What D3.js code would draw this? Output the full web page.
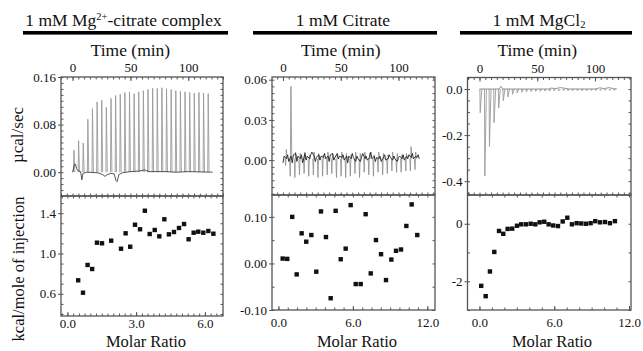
<!DOCTYPE html>
<html>
<head>
<meta charset="utf-8">
<script src="https://cdn.jsdelivr.net/npm/d3@7"></script>
<style>
  body { margin: 0; background: #fff; }
  svg text { font-family: "Liberation Serif", "Times New Roman", serif; fill: #111; }
  .ax .domain { display: none; }
  .ax line { stroke: #555; stroke-width: 1; }
  .ax text { font-size: 13px; }
</style>
</head>
<body>
<script>
// Panel titles (pieces: [text, "sup" | "sub" | ""])
var titleA = [["1 mM Mg", ""], ["2+", "sup"], ["-citrate complex", ""]];
var titleB = [["1 mM Citrate", ""]];
var titleC = [["1 mM MgCl", ""], ["2", "sub"]];

// tick labels
var timeTicks = [0, 50, 100];
var rawTicksA = [0, 0.08, 0.16], rawLabelsA = ["0.00", "0.08", "0.16"];
var rawTicksB = [0, 0.03, 0.06], rawLabelsB = ["0.00", "0.03", "0.06"];
var rawTicksC = [0, -0.2, -0.4], rawLabelsC = ["0.0", "-0.2", "-0.4"];
var heatTicksA = [0.6, 1.0, 1.4], heatLabelsA = ["0.6", "1.0", "1.4"];
var heatTicksB = [-0.1, 0, 0.1], heatLabelsB = ["-0.10", "0.00", "0.10"];
var heatTicksC = [-2, 0], heatLabelsC = ["-2", "0"];
var ratioTicksA = [0, 3, 6], ratioLabelsA = ["0.0", "3.0", "6.0"];
var ratioTicksB = [0, 6, 12], ratioLabelsB = ["0.0", "6.0", "12.0"];
var ratioTicksC = [0, 6, 12], ratioLabelsC = ["0.0", "6.0", "12.0"];

// Mg2+-citrate complex: raw injection peaks (ucal/sec)
var injTimeA = [1, 5, 9, 13, 17, 21, 25, 29, 33, 37, 41, 45, 49, 53, 57, 61, 65, 69, 73, 77, 81, 85, 89, 93, 97, 101, 105, 109, 113, 117];
var peakA = [0.037, 0.053, 0.049, 0.089, 0.107, 0.118, 0.121, 0.109, 0.124, 0.129, 0.131, 0.134, 0.135, 0.132, 0.135,
             0.137, 0.139, 0.141, 0.141, 0.142, 0.140, 0.139, 0.137, 0.136, 0.135, 0.134, 0.133, 0.134, 0.133, 0.132];
var baseA = [[0, 0], [1.5, 0.012], [2.5, 0.014], [3.5, 0.006], [5, 0.002], [7, 0.001], [8, -0.013], [9, -0.002], [12, 0],
             [22, -0.001], [26, -0.004], [28, -0.007], [30, -0.004], [33, -0.002], [36, -0.003], [37.5, -0.014], [38.5, -0.016],
             [40, -0.004], [43, -0.001], [50, 0.001], [58, 0.002], [62, 0.004], [66, 0.001], [80, 0.001], [90, 0], [100, 0.001], [121, 0]];
// integrated heats
var ratioA = [0.47, 0.68, 0.88, 1.08, 1.29, 1.51, 1.91, 2.34, 2.54, 2.74, 2.95, 3.17, 3.38, 3.59, 3.81, 4.01, 4.23, 4.43,
              4.65, 4.87, 5.09, 5.29, 5.51, 5.71, 5.93, 6.15, 6.37];
var heatA = [0.734, 0.611, 0.886, 0.846, 1.107, 1.101, 1.127, 1.047, 1.200, 1.067, 1.285, 1.240, 1.424, 1.193, 1.233, 1.170,
             1.339, 1.190, 1.213, 1.253, 1.292, 1.141, 1.206, 1.216, 1.206, 1.223, 1.196];

// Citrate
var injTimeB = [2, 6, 10, 14, 18, 22, 26, 30, 34, 38, 42, 46, 50, 54, 58, 62, 66, 70, 74, 78, 82, 86, 90, 94, 98, 102, 106, 110, 114];
var dipB = [-0.004, -0.012, -0.013, -0.011, -0.010, -0.012, -0.011, -0.013, -0.012, -0.011, -0.010, -0.013, -0.012, -0.013, -0.012,
            -0.010, -0.013, -0.009, -0.011, -0.012, -0.009, -0.011, -0.010, -0.008, -0.009, -0.009, -0.008, -0.008, -0.007];
var blipB = [0.008, 0.055, 0.006, 0.005, 0.006, 0.004, 0.006, 0.005, 0.004, 0.006, 0.005, 0.004, 0.006, 0.005, 0.004,
             0.006, 0.005, 0.006, 0.005, 0.004, 0.006, 0.005, 0.004, 0.006, 0.005, 0.004, 0.005, 0.010, 0.006];
var baseB = [[0, -0.002], [1, 0.003], [3, 0.001], [4, 0.004], [5, -0.001], [7, 0.003], [8, -0.002], [9, 0.004], [11, 0.005], [12, -0.001],
             [13, 0.003], [15, 0.001], [16, 0.004], [17, -0.002], [19, 0.005], [20, 0.000], [21, 0.003], [23, 0.001], [24, 0.004],
             [25, 0.006], [27, 0.003], [28, -0.001], [29, 0.002], [31, 0.004], [32, 0.000], [33, 0.003], [35, 0.002], [36, 0.005],
             [37, 0.001], [39, 0.003], [40, -0.001], [41, 0.004], [43, 0.005], [44, 0.000], [45, 0.002], [47, 0.005], [48, 0.001],
             [49, 0.003], [51, 0.002], [52, 0.004], [53, 0.000], [55, 0.003], [56, -0.002], [57, 0.003], [59, 0.001], [60, 0.005],
             [61, 0.002], [63, -0.001], [64, 0.003], [65, 0.001], [67, -0.001], [68, 0.002], [69, 0.005], [71, 0.001], [72, 0.003],
             [73, 0.000], [75, 0.002], [76, 0.006], [77, 0.001], [79, 0.003], [80, -0.001], [81, 0.002], [83, 0.001], [84, 0.003],
             [85, -0.001], [87, 0.002], [88, 0.004], [89, 0.000], [91, 0.001], [92, 0.004], [93, 0.002], [95, 0.000], [96, 0.003],
             [97, 0.001], [99, -0.001], [100, 0.002], [101, 0.003], [103, 0.001], [104, 0.004], [105, 0.000], [107, 0.003],
             [108, 0.001], [109, 0.004], [111, 0.002], [112, 0.005], [113, 0.001], [115, 0.003], [116, 0.002], [117, 0.004], [118, 0.001]];
var ratioB = [0.34, 0.71, 1.11, 1.47, 1.87, 2.24, 2.65, 3.05, 3.43, 3.83, 4.21, 4.61, 5.02, 5.42, 5.82, 6.23, 6.63, 7.03,
              7.44, 7.86, 8.27, 8.67, 9.10, 9.48, 9.88, 10.31, 10.74, 11.19];
var heatB = [0.0105, 0.0098, 0.100, -0.0235, 0.0647, 0.0467, 0.061, -0.0177, 0.1117, 0.0567, -0.0747, 0.113, 0.009, 0.0318,
             0.1253, -0.0443, -0.0443, 0.1058, -0.0214, 0.0502, 0.0198, -0.0357, 0.0083, 0.0271, 0.030, 0.0805, 0.1268, 0.061];

// MgCl2
var injTimeC = [0, 4, 8, 12, 16, 20, 24, 28, 32, 36, 40, 44, 48, 52, 56, 60, 64, 68, 72, 76, 80, 84, 88, 92, 96, 100, 104, 108, 112, 116];
var peakC = [-0.103, -0.377, -0.249, -0.146, -0.083, -0.051, -0.034, -0.023, -0.017, -0.014, -0.012, -0.011, -0.010, -0.010, -0.009,
             -0.009, -0.008, -0.008, -0.008, -0.008, -0.007, -0.007, -0.007, -0.007, -0.006, -0.006, -0.006, -0.006, -0.006, -0.006];
var baseC = [[0, 0], [17, 0], [18.5, 0.012], [20, 0], [60, 0], [62, 0.004], [66, 0.002], [70, 0.006], [74, 0.003], [78, 0],
             [100, 0], [104, 0.005], [108, 0.002], [112, 0.006], [116, 0.002], [119, 0]];
var ratioC = [0.14, 0.50, 0.84, 1.19, 1.57, 1.91, 2.26, 2.63, 3.01, 3.35, 3.73, 4.11, 4.48, 4.83, 5.20, 5.55, 5.92, 6.30,
              6.68, 7.05, 7.42, 7.80, 8.17, 8.55, 8.92, 9.29, 9.67, 10.07, 10.47, 10.87];
var heatC = [-2.16, -2.52, -1.66, -0.98, -0.25, -0.35, -0.18, -0.17, -0.07, -0.02, -0.02, 0.00, -0.02, 0.05, 0.07, -0.02,
             -0.06, -0.08, 0.08, 0.21, -0.02, 0.02, 0.01, 0.00, 0.02, 0.09, 0.05, 0.06, 0.02, 0.09];

var svgWidth = 643, svgHeight = 351;
var svg = d3.select("body").append("svg")
  .attr("width", svgWidth)
  .attr("height", svgHeight);

// layout of the three columns
var layout = [
  { x0: 61, x1: 223, top: [77, 196], bot: [196, 316], tDom: [-10, 130], rawDom: [-0.04, 0.16], rDom: [-0.28, 6.79], hDom: [0.38, 1.57],
    rawMinor: 0.01, hMinor: 0.1, rMinor: 0.25, barX: [23, 228], titleX: 123.5, labPad: 3, molarX: 146 },
  { x0: 272, x1: 435, top: [77, 195], bot: [195, 310], tDom: [-9.5, 131.6], rawDom: [-0.026, 0.062], rDom: [-0.52, 12.62], hDom: [-0.1, 0.147],
    rawMinor: 0.005, hMinor: 0.05, rMinor: 0.75, barX: [253, 437], titleX: 343, labPad: 8, molarX: 357 },
  { x0: 467.5, x1: 631, top: [77.5, 195], bot: [195, 310], tDom: [-10.4, 131.2], rawDom: [-0.46, 0.05], rDom: [-0.96, 12.16], hDom: [-3, 1],
    rawMinor: 0.05, hMinor: 1, rMinor: 1, barX: [460, 632], titleX: 539, labPad: 8, molarX: 552 }
];

function minorRange(dom, step) {
  var lo = Math.min(dom[0], dom[1]), hi = Math.max(dom[0], dom[1]);
  return d3.range(Math.ceil(lo / step - 1e-6) * step, hi + 1e-9, step);
}

// frame with ticks on all four sides
function drawFrame(x, y, xMajor, xLabels, xSide, xMinor, yMajor, yLabels, yMinor, labPad) {
  var x0 = x.range()[0], x1 = x.range()[1], yT = y.range()[1], yB = y.range()[0];

  svg.append("g").attr("class", "ax").attr("transform", `translate(${x0},0)`)
    .call(d3.axisLeft(y).tickValues(yMinor).tickFormat("").tickSizeInner(-2.5).tickSizeOuter(0));
  svg.append("g").attr("class", "ax").attr("transform", `translate(${x0},0)`)
    .call(d3.axisLeft(y).tickValues(yMajor).tickFormat((d, i) => yLabels[i]).tickSizeInner(3).tickSizeOuter(0).tickPadding(2));
  svg.append("g").attr("class", "ax").attr("transform", `translate(${x1},0)`)
    .call(d3.axisRight(y).tickValues(yMinor).tickFormat("").tickSizeInner(-2.5).tickSizeOuter(0));

  svg.append("g").attr("class", "ax").attr("transform", `translate(0,${yT})`)
    .call(d3.axisTop(x).tickValues(xMinor).tickFormat("").tickSizeInner(-2.5).tickSizeOuter(0));
  svg.append("g").attr("class", "ax").attr("transform", `translate(0,${yB})`)
    .call(d3.axisBottom(x).tickValues(xMinor).tickFormat("").tickSizeInner(-2.5).tickSizeOuter(0));

  if (xSide === "top") {
    svg.append("g").attr("class", "ax").attr("transform", `translate(0,${yT})`)
      .call(d3.axisTop(x).tickValues(xMajor).tickFormat((d, i) => xLabels[i]).tickSizeInner(-4).tickSizeOuter(0).tickPadding(5));
  } else {
    svg.append("g").attr("class", "ax").attr("transform", `translate(0,${yB})`)
      .call(d3.axisBottom(x).tickValues(xMajor).tickFormat((d, i) => xLabels[i]).tickSizeInner(-4).tickSizeOuter(0).tickPadding(labPad));
  }

  svg.append("rect")
    .attr("x", x0).attr("y", yT)
    .attr("width", x1 - x0).attr("height", yB - yT)
    .attr("fill", "none").attr("stroke", "#555").attr("stroke-width", 1.3);
}

function drawTitle(pieces, cx, bar) {
  var t = svg.append("text")
    .attr("x", cx).attr("y", 26)
    .attr("text-anchor", "middle")
    .style("font-size", "17.5px");
  pieces.forEach(function(p) {
    var ts = t.append("tspan").text(p[0]);
    if (p[1] === "sup") ts.style("font-size", "10.5px").attr("baseline-shift", "6");
    if (p[1] === "sub") ts.style("font-size", "10.5px").attr("baseline-shift", "-2");
  });
  svg.append("rect")
    .attr("x", bar[0]).attr("y", 31)
    .attr("width", bar[1] - bar[0]).attr("height", 3.6)
    .attr("fill", "#000");
}

var cols = [
  { title: titleA, rawT: rawTicksA, rawL: rawLabelsA, hT: heatTicksA, hL: heatLabelsA, rT: ratioTicksA, rL: ratioLabelsA, ratio: ratioA, heat: heatA },
  { title: titleB, rawT: rawTicksB, rawL: rawLabelsB, hT: heatTicksB, hL: heatLabelsB, rT: ratioTicksB, rL: ratioLabelsB, ratio: ratioB, heat: heatB },
  { title: titleC, rawT: rawTicksC, rawL: rawLabelsC, hT: heatTicksC, hL: heatLabelsC, rT: ratioTicksC, rL: ratioLabelsC, ratio: ratioC, heat: heatC }
];

var scales = [];

cols.forEach(function(c, k) {
  var L = layout[k];
  var tScale = d3.scaleLinear().domain(L.tDom).range([L.x0, L.x1]);
  var rawScale = d3.scaleLinear().domain(L.rawDom).range([L.top[1], L.top[0]]);
  var rScale = d3.scaleLinear().domain(L.rDom).range([L.x0, L.x1]);
  var hScale = d3.scaleLinear().domain(L.hDom).range([L.bot[1], L.bot[0]]);
  scales.push({ t: tScale, raw: rawScale });

  drawTitle(c.title, L.titleX, L.barX);

  svg.append("text")
    .attr("x", tScale(50)).attr("y", 56)
    .attr("text-anchor", "middle")
    .style("font-size", "17.5px")
    .text("Time (min)");

  drawFrame(tScale, rawScale, timeTicks, timeTicks.map(String), "top", minorRange(L.tDom, 5),
            c.rawT, c.rawL, minorRange(L.rawDom, L.rawMinor), 0);
  drawFrame(rScale, hScale, c.rT, c.rL, "bottom", minorRange(L.rDom, L.rMinor),
            c.hT, c.hL, minorRange(L.hDom, L.hMinor), L.labPad);

  svg.append("text")
    .attr("x", L.molarX).attr("y", 346.5)
    .attr("text-anchor", "middle")
    .style("font-size", "16.5px")
    .text("Molar Ratio");

  // integrated heat squares
  svg.append("g").selectAll("rect")
    .data(c.ratio)
    .enter()
    .append("rect")
    .attr("x", (d, i) => rScale(d) - 2.2)
    .attr("y", (d, i) => hScale(c.heat[i]) - 2.2)
    .attr("width", 4.4)
    .attr("height", 4.4)
    .attr("fill", "#111");
});

// raw thermograms
var line = function(s) {
  return d3.line().x(d => s.t(d[0])).y(d => s.raw(d[1]));
};

function drawPath(pts, s, color, w) {
  svg.append("path")
    .attr("d", line(s)(pts))
    .attr("fill", "none")
    .attr("stroke", color)
    .attr("stroke-width", w)
    .attr("stroke-linejoin", "round");
}

// A: upward spikes
injTimeA.forEach(function(t, i) {
  drawPath([[t - 0.2, 0], [t + 0.2, peakA[i]], [t + 1.0, 0]], scales[0], "#9a9a9a", 0.9);
});
drawPath(baseA, scales[0], "#444", 0.9);

// B: dips and blips
injTimeB.forEach(function(t, i) {
  drawPath([[t - 0.2, 0.001], [t + 0.3, dipB[i]], [t + 0.9, blipB[i]], [t + 1.6, 0.001]], scales[1], "#8a8a8a", 0.8);
});
drawPath(baseB, scales[1], "#222", 0.9);

// C: downward spikes
injTimeC.forEach(function(t, i) {
  drawPath([[t + 0.3, 0], [t + 0.6, peakC[i]], [t + 2.0, 0]], scales[2], "#9a9a9a", 0.9);
});
drawPath(baseC, scales[2], "#777", 0.8);

// y axis titles
svg.append("text")
  .attr("transform", "translate(23,135) rotate(-90)")
  .attr("text-anchor", "middle")
  .style("font-size", "17px")
  .text("\u00b5cal/sec");

svg.append("text")
  .attr("transform", "translate(24,269) rotate(-90)")
  .attr("text-anchor", "middle")
  .style("font-size", "16.5px")
  .text("kcal/mole of injection");
</script>
</body>
</html>
